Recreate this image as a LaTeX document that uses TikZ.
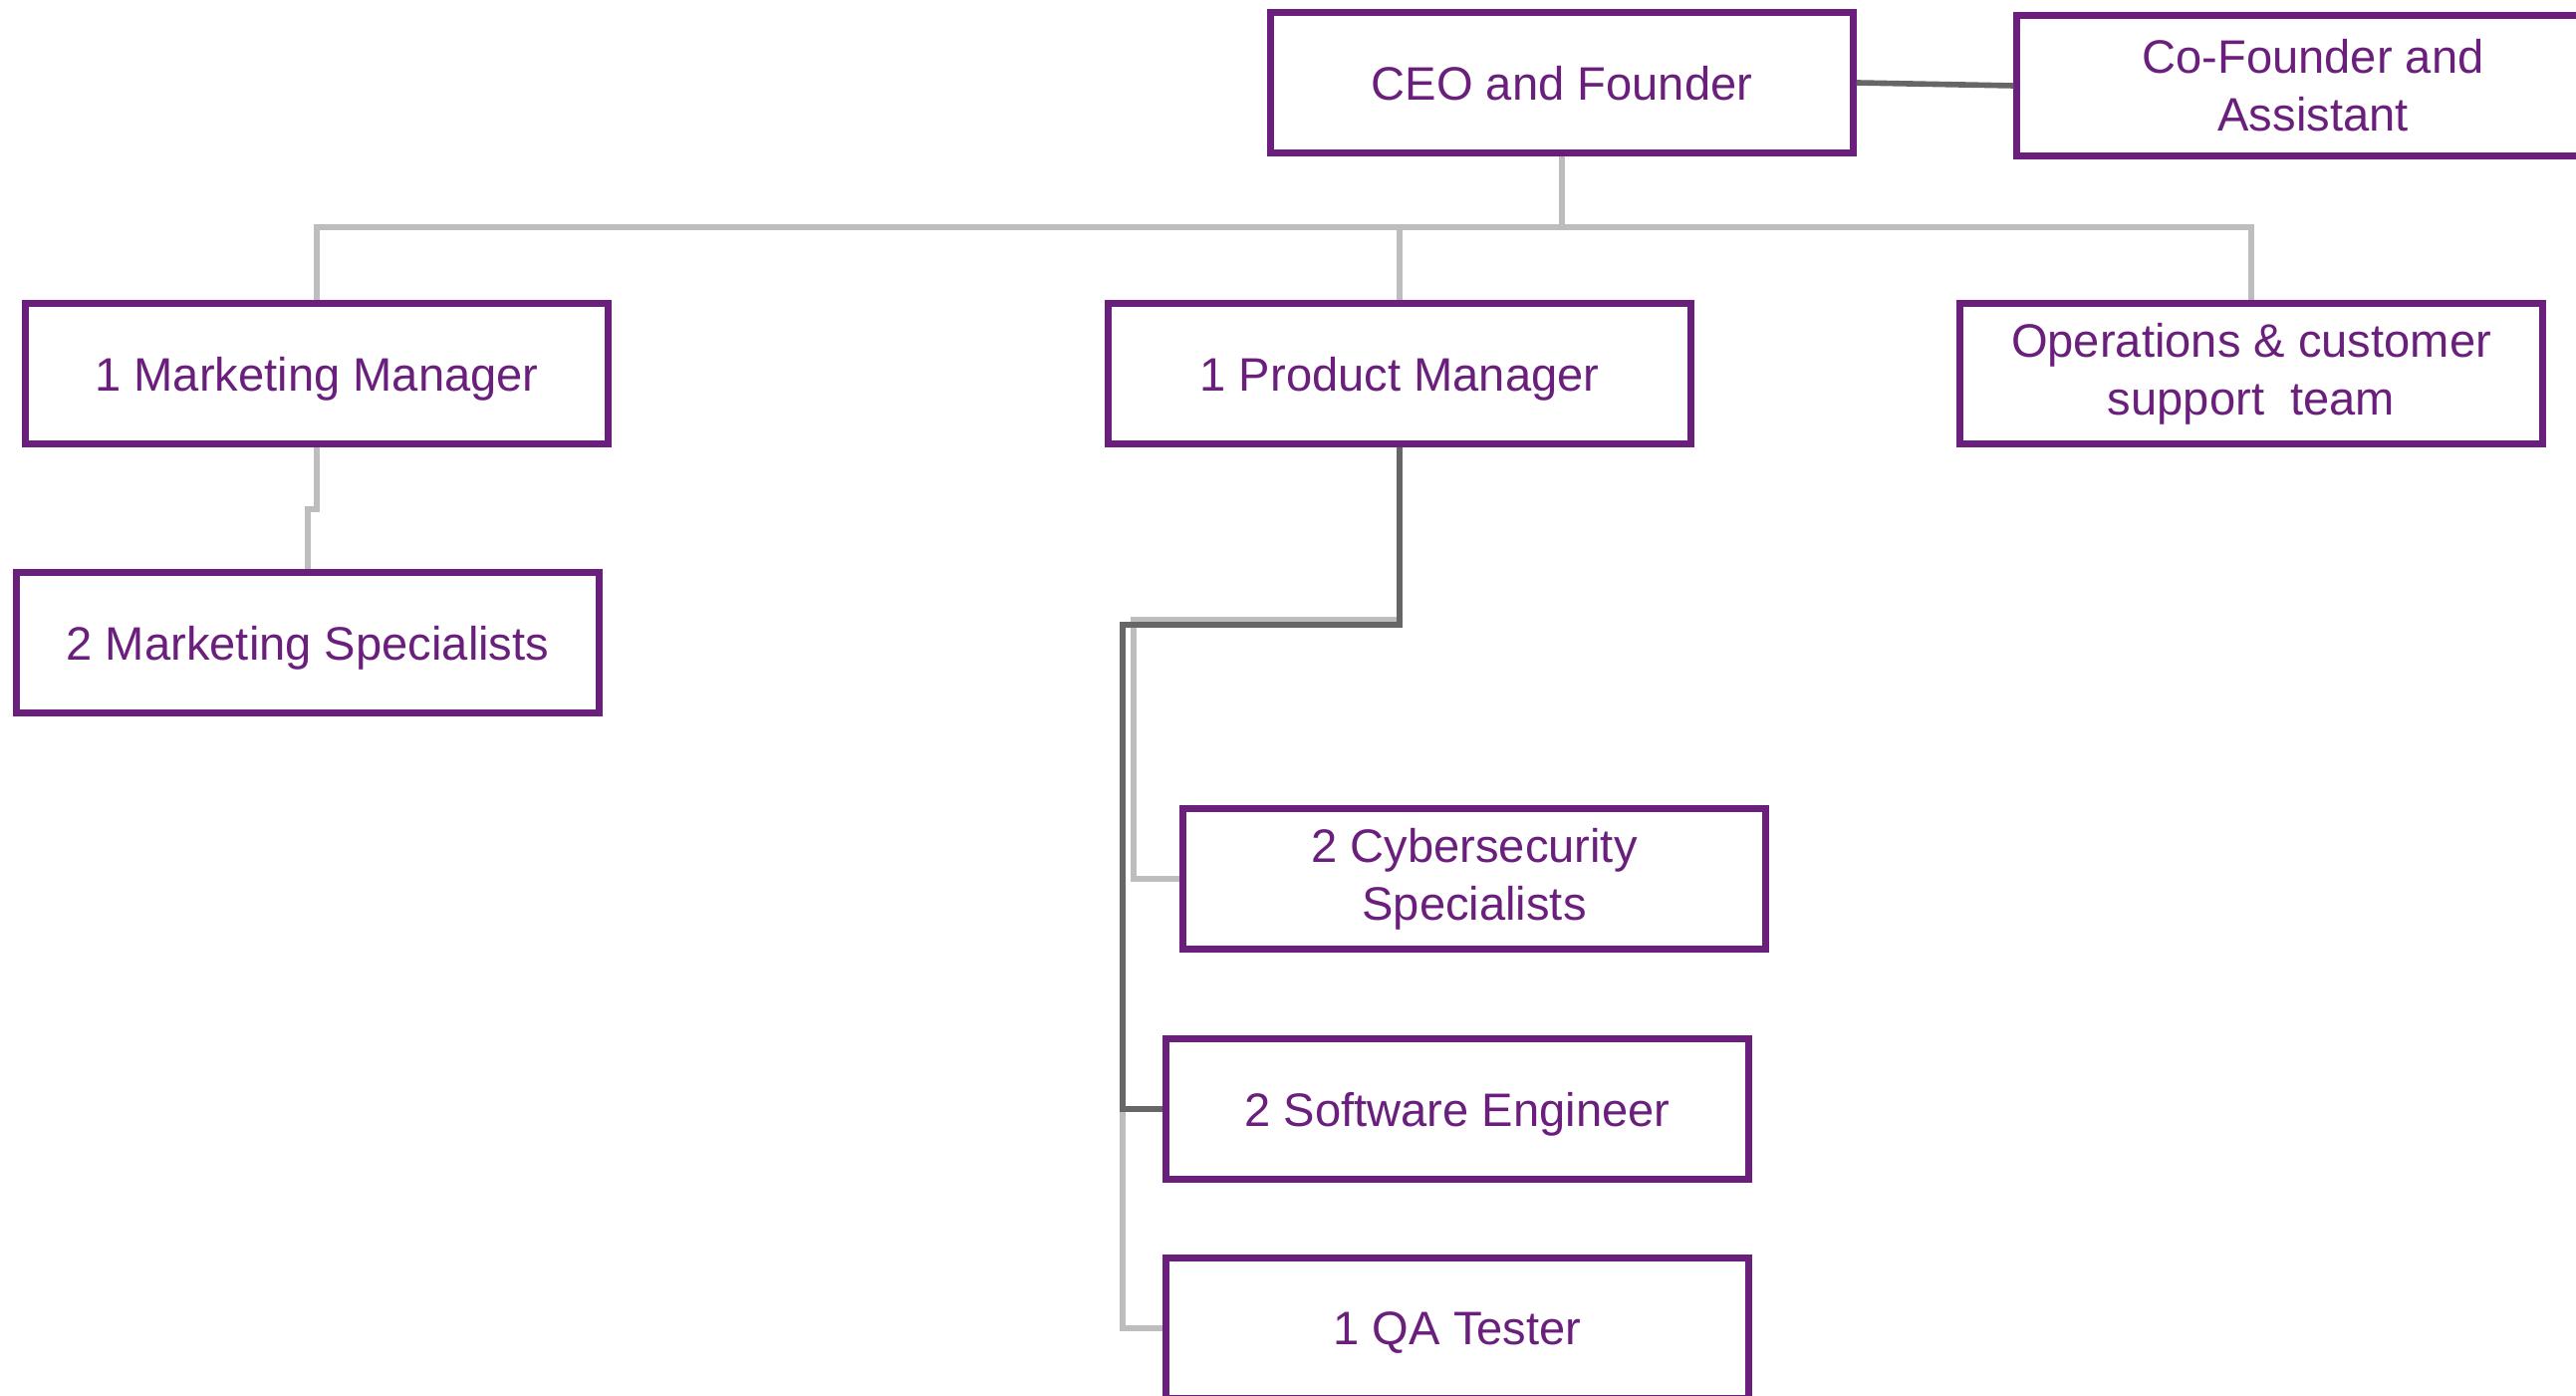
\documentclass[tikz,border=0pt]{standalone}
\usepackage{fontspec}
\setmainfont{Liberation Sans}
\definecolor{orgpurple}{HTML}{6B1F7C}
\definecolor{linelight}{HTML}{BDBDBD}
\definecolor{linedark}{HTML}{666666}
\begin{document}
\begin{tikzpicture}[x=0.01cm,y=-0.01cm,
    role/.style={draw=orgpurple,line width=2pt,text=orgpurple,minimum width=5.84cm,minimum height=1.4cm,
        align=center,inner sep=0pt,font=\fontsize{13.4}{16.5}\selectfont},
    oneline/.style={text depth=0pt},
    light/.style={draw=linelight,line width=1.6pt},
    dark/.style={draw=linedark,line width=1.6pt}]
            \useasboundingbox (0,0) rectangle (2586,1401);
            \node[role,oneline] (ceo) at (1568,83) {CEO and Founder};
            \node[role,minimum width=5.94cm] (cofounder) at (2322,86) {Co-Founder and\\Assistant};
            \node[role,oneline] (mktmgr) at (318,375) {1 Marketing Manager};
            \node[role,oneline] (prodmgr) at (1405,375) {1 Product Manager};
            \node[role] (ops) at (2260,375) {Operations \& customer\\support\ \ team};
            \node[role,oneline] (mktspec) at (309,645) {2 Marketing Specialists};
            \node[role] (cyber) at (1480,882) {2 Cybersecurity\\Specialists};
            \node[role,oneline] (softeng) at (1463,1113) {2 Software Engineer};
            \node[role,oneline] (qa) at (1463,1333) {1 QA Tester};
            \coordinate (bus) at (1568,228);
            \coordinate (mktstep) at (318,511);
            \coordinate (pmlight) at (1138,622);
            \coordinate (pmdark) at (1127,627);
            % top level
            \draw[light] (ceo.south) -- (bus);
            \draw[light] (mktmgr.north) |- (bus) -| (ops.north);
            \draw[light] (prodmgr.north) -- (prodmgr.north |- bus);
            \draw[dark] (ceo.east) -- (cofounder.west);
            % marketing
            \draw[light] (mktmgr.south) -- (mktstep) -- (mktspec.north |- mktstep) -- (mktspec.north);
            % product
            \draw[light] (prodmgr.south) |- (pmlight) |- (cyber.west);
            \draw[light] (pmdark |- softeng.west) |- (qa.west);
            \draw[dark] (prodmgr.south) |- (pmdark) |- (softeng.west);
        \end{tikzpicture}
\end{document}
